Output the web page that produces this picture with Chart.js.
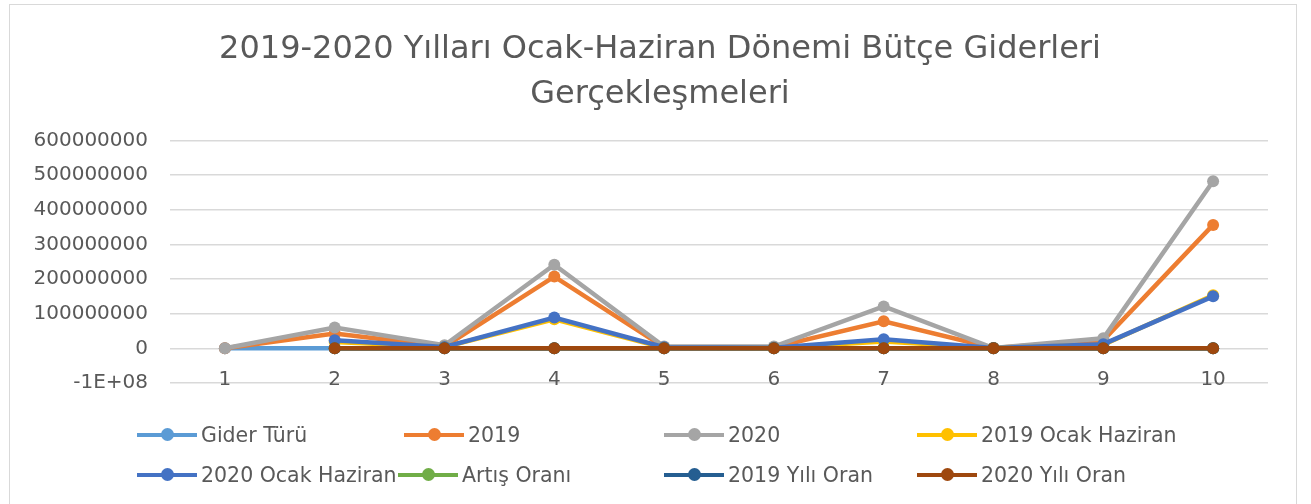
<!DOCTYPE html>
<html>
<head>
<meta charset="utf-8">
<script src="https://cdn.jsdelivr.net/npm/chart.js@4"></script>
<style>
  body { margin: 0; background: #fff; font-family: "DejaVu Sans", sans-serif; }
  #wrap { position: relative; width: 1311px; height: 504px; }
  #frame { position: absolute; left: 9px; top: 4px; width: 1288px; height: 505px; border: 1.5px solid #d9d9d9; box-sizing: border-box; }
  #chart { position: absolute; left: 0; top: 0; }
  .lg { position: absolute; display: flex; align-items: center; height: 24px; color: #595959; font-size: 20.5px; white-space: nowrap; }
  .lg .mk { position: relative; width: 60px; height: 4.5px; margin-right: 4px; }
  .lg .mk i { position: absolute; left: 24px; top: -4.5px; width: 13px; height: 13px; border-radius: 50%; }
</style>
</head>
<body>
<div id="wrap">
  <div id="frame"></div>
  <canvas id="chart" width="1311" height="504"></canvas>
  <div id="legend"></div>
</div>
<script>
// veriler
const kategoriler = ["1", "2", "3", "4", "5", "6", "7", "8", "9", "10"];
const seriAdlari = ["Gider Türü", "2019", "2020", "2019 Ocak Haziran", "2020 Ocak Haziran", "Artış Oranı", "2019 Yılı Oran", "2020 Yılı Oran"];
const renkler = ["#5b9bd5", "#ed7d31", "#a5a5a5", "#ffc000", "#4472c4", "#70ad47", "#255e91", "#9e480e"];

const giderTuru = [0, 0, 0, 0, 0, 0, 0, 0, 0, 0];
const y2019 = [0, 43000000, 5000000, 207000000, 3000000, 3000000, 78000000, 1000000, 23000000, 356000000];
const y2020 = [0, 60000000, 9000000, 241000000, 5000000, 5000000, 121000000, 1000000, 29000000, 482000000];
const ocakHaziran2019 = [null, 18000000, 4000000, 84000000, 2000000, 1000000, 20000000, 1000000, 10000000, 153000000];
const ocakHaziran2020 = [null, 23000000, 4000000, 89000000, 3000000, 2000000, 26000000, 1000000, 12000000, 150000000];
const artisOrani = [null, 1, 1, 1, 1, 1, 1, 1, 1, 1];
const oran2019 = [null, 0, 0, 0, 0, 0, 0, 0, 0, 0];
const oran2020 = [null, 0, 0, 0, 0, 0, 0, 0, 0, 0];

const yTikleri = [-100000000, 0, 100000000, 200000000, 300000000, 400000000, 500000000, 600000000];
const yTikEtiketleri = ["-1E+08", "0", "100000000", "200000000", "300000000", "400000000", "500000000", "600000000"];

const seriler = [giderTuru, y2019, y2020, ocakHaziran2019, ocakHaziran2020, artisOrani, oran2019, oran2020];
const yazi = "#595959";

const datasets = seriler.map((d, i) => ({
  label: seriAdlari[i],
  data: d,
  borderColor: renkler[i],
  backgroundColor: renkler[i],
  borderWidth: 4.5,
  pointRadius: 6,
  pointHoverRadius: 6,
  pointBorderWidth: 0,
  tension: 0,
  order: seriler.length - i   // excel gibi son seri üstte
}));

// başlığı excel'deki gibi biraz sağa kaydır
const baslikKaydir = {
  id: "baslikKaydir",
  afterLayout(chart) {
    const t = chart.titleBlock;
    if (t) { t.left += 21; t.right += 21; }
  }
};

new Chart(document.getElementById("chart"), {
  type: "line",
  data: { labels: kategoriler, datasets: datasets },
  plugins: [baslikKaydir],
  options: {
    responsive: false,
    animation: false,
    layout: { padding: { left: 10, right: 43, top: 0, bottom: 121 } },
    plugins: {
      legend: { display: false },
      tooltip: { enabled: false },
      title: {
        display: true,
        text: ["2019-2020 Yılları Ocak-Haziran Dönemi Bütçe Giderleri", "Gerçekleşmeleri"],
        color: yazi,
        font: { family: "DejaVu Sans", size: 32, weight: "normal", lineHeight: 1.38 },
        padding: { top: 28, bottom: 24 }
      }
    },
    scales: {
      x: {
        offset: true,
        grid: { display: false, drawTicks: false },
        border: { display: false },
        // etiketler -1E+08 çizgisinin hemen üstünde (excel'deki gibi)
        ticks: { color: yazi, font: { family: "DejaVu Sans", size: 20 }, mirror: true, padding: -9, maxRotation: 0 },
        afterFit: s => { s.height = 0; }
      },
      y: {
        min: -100000000,
        max: 600000000,
        afterBuildTicks: s => { s.ticks = yTikleri.map(v => ({ value: v })); },
        grid: { color: "#d9d9d9", lineWidth: 1.5, drawTicks: false },
        border: { display: false },
        ticks: {
          color: yazi,
          font: { family: "DejaVu Sans", size: 20 },
          padding: 22,
          callback: v => yTikEtiketleri[yTikleri.indexOf(v)]
        },
        afterFit: s => { s.width = 160; }
      }
    }
  }
});

// lejant (excel düzeni: 2 satır, 4 sütun)
const lejantSol = [[137, 404, 664, 917], [137, 398, 664, 917]];
const lejantUst = [423, 463];
const lg = document.getElementById("legend");
seriAdlari.forEach((ad, i) => {
  const r = Math.floor(i / 4), c = i % 4;
  const el = document.createElement("div");
  el.className = "lg";
  el.style.left = lejantSol[r][c] + "px";
  el.style.top = lejantUst[r] + "px";
  el.innerHTML = '<span class="mk" style="background:' + renkler[i] + '"><i style="background:' + renkler[i] + '"></i></span>';
  el.appendChild(document.createTextNode(ad));
  lg.appendChild(el);
});
</script>
</body>
</html>
